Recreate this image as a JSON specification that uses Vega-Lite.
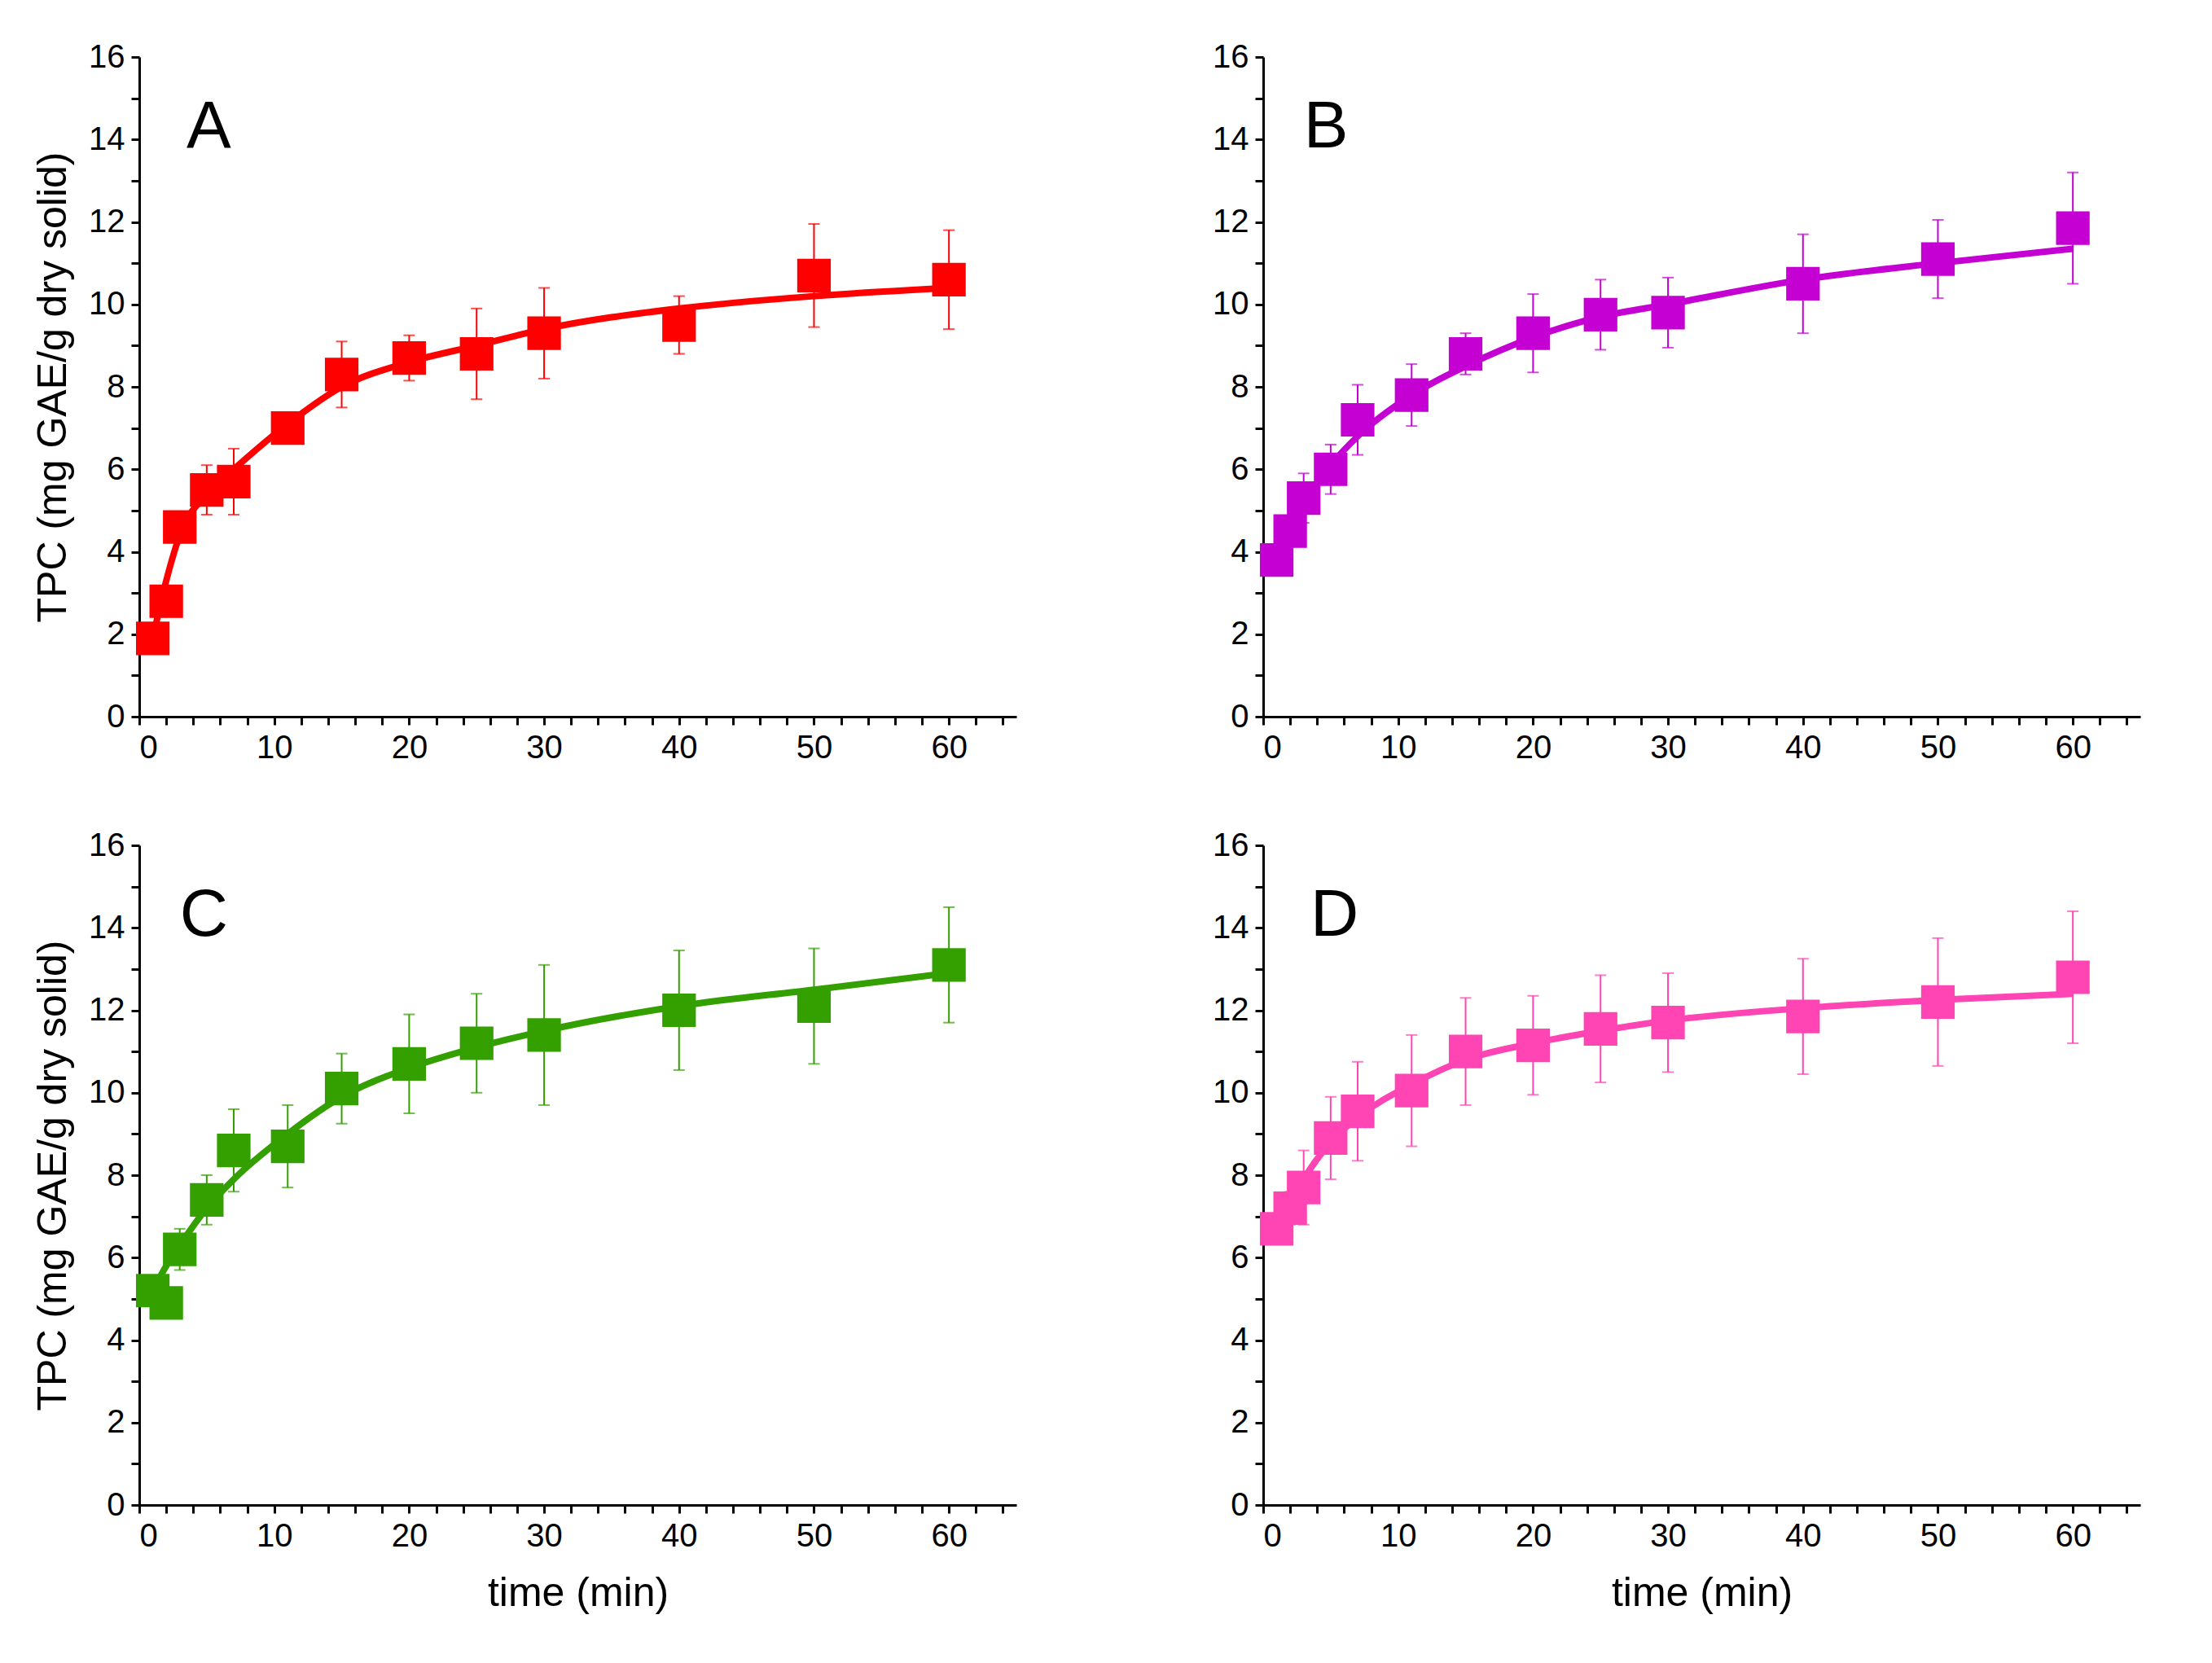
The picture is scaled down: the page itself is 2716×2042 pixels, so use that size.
{
  "$schema": "https://vega.github.io/schema/vega-lite/v6.json",
  "background": "white",
  "padding": {"left": 40, "top": 50, "right": 10, "bottom": 10},
  "spacing": 80,
  "datasets": {
    "tpc": [
      {"panel": "A", "t": 1, "y": 1.9, "err": 0.3, "fit": 1.9},
      {"panel": "A", "t": 2, "y": 2.8, "err": 0.3, "fit": 3.3},
      {"panel": "A", "t": 3, "y": 4.6, "err": 0.3, "fit": 4.4},
      {"panel": "A", "t": 5, "y": 5.5, "err": 0.6, "fit": 5.4},
      {"panel": "A", "t": 7, "y": 5.7, "err": 0.8, "fit": 6.0},
      {"panel": "A", "t": 11, "y": 7.0, "err": 0.3, "fit": 7.1},
      {"panel": "A", "t": 15, "y": 8.3, "err": 0.8, "fit": 8.0},
      {"panel": "A", "t": 20, "y": 8.7, "err": 0.55, "fit": 8.6},
      {"panel": "A", "t": 25, "y": 8.8, "err": 1.1, "fit": 9.0},
      {"panel": "A", "t": 30, "y": 9.3, "err": 1.1, "fit": 9.4},
      {"panel": "A", "t": 40, "y": 9.5, "err": 0.7, "fit": 9.9},
      {"panel": "A", "t": 50, "y": 10.7, "err": 1.25, "fit": 10.2},
      {"panel": "A", "t": 60, "y": 10.6, "err": 1.2, "fit": 10.4},
      {"panel": "B", "t": 1, "y": 3.8, "err": 0.3, "fit": 3.9},
      {"panel": "B", "t": 2, "y": 4.5, "err": 0.3, "fit": 4.6},
      {"panel": "B", "t": 3, "y": 5.3, "err": 0.6, "fit": 5.2},
      {"panel": "B", "t": 5, "y": 6.0, "err": 0.6, "fit": 6.1},
      {"panel": "B", "t": 7, "y": 7.2, "err": 0.85, "fit": 6.8},
      {"panel": "B", "t": 11, "y": 7.8, "err": 0.75, "fit": 7.8},
      {"panel": "B", "t": 15, "y": 8.8, "err": 0.5, "fit": 8.5},
      {"panel": "B", "t": 20, "y": 9.3, "err": 0.95, "fit": 9.2},
      {"panel": "B", "t": 25, "y": 9.75, "err": 0.85, "fit": 9.7},
      {"panel": "B", "t": 30, "y": 9.8, "err": 0.85, "fit": 10.0},
      {"panel": "B", "t": 40, "y": 10.5, "err": 1.2, "fit": 10.6},
      {"panel": "B", "t": 50, "y": 11.1, "err": 0.95, "fit": 11.0},
      {"panel": "B", "t": 60, "y": 11.85, "err": 1.35, "fit": 11.35},
      {"panel": "C", "t": 1, "y": 5.2, "err": 0.3, "fit": 5.2},
      {"panel": "C", "t": 2, "y": 4.9, "err": 0.3, "fit": 5.8},
      {"panel": "C", "t": 3, "y": 6.2, "err": 0.5, "fit": 6.3},
      {"panel": "C", "t": 5, "y": 7.4, "err": 0.6, "fit": 7.2},
      {"panel": "C", "t": 7, "y": 8.6, "err": 1.0, "fit": 7.9},
      {"panel": "C", "t": 11, "y": 8.7, "err": 1.0, "fit": 9.0},
      {"panel": "C", "t": 15, "y": 10.1, "err": 0.85, "fit": 9.9},
      {"panel": "C", "t": 20, "y": 10.7, "err": 1.2, "fit": 10.6},
      {"panel": "C", "t": 25, "y": 11.2, "err": 1.2, "fit": 11.1},
      {"panel": "C", "t": 30, "y": 11.4, "err": 1.7, "fit": 11.5},
      {"panel": "C", "t": 40, "y": 12.0, "err": 1.45, "fit": 12.1},
      {"panel": "C", "t": 50, "y": 12.1, "err": 1.4, "fit": 12.5},
      {"panel": "C", "t": 60, "y": 13.1, "err": 1.4, "fit": 12.9},
      {"panel": "D", "t": 1, "y": 6.7, "err": 0.3, "fit": 6.6},
      {"panel": "D", "t": 2, "y": 7.2, "err": 0.4, "fit": 7.3},
      {"panel": "D", "t": 3, "y": 7.7, "err": 0.9, "fit": 7.9},
      {"panel": "D", "t": 5, "y": 8.9, "err": 1.0, "fit": 8.8},
      {"panel": "D", "t": 7, "y": 9.55, "err": 1.2, "fit": 9.4},
      {"panel": "D", "t": 11, "y": 10.05, "err": 1.35, "fit": 10.2},
      {"panel": "D", "t": 15, "y": 11.0, "err": 1.3, "fit": 10.8},
      {"panel": "D", "t": 20, "y": 11.15, "err": 1.2, "fit": 11.2},
      {"panel": "D", "t": 25, "y": 11.55, "err": 1.3, "fit": 11.5},
      {"panel": "D", "t": 30, "y": 11.7, "err": 1.2, "fit": 11.75},
      {"panel": "D", "t": 40, "y": 11.85, "err": 1.4, "fit": 12.05},
      {"panel": "D", "t": 50, "y": 12.2, "err": 1.55, "fit": 12.25},
      {"panel": "D", "t": 60, "y": 12.8, "err": 1.6, "fit": 12.4}
    ],
    "letters": [
      {"panel": "A", "lx": 3.5, "ly": 14.3},
      {"panel": "B", "lx": 3.0, "ly": 14.3},
      {"panel": "C", "lx": 3.0, "ly": 14.3},
      {"panel": "D", "lx": 3.5, "ly": 14.3}
    ]
  },
  "vconcat": [
    {
      "hconcat": [
        {
          "width": 1077, "height": 810,
          "data": {"name": "tpc"},
          "transform": [{"filter": "datum.panel == 'A'"}],
          "encoding": {
            "x": {"field": "t", "type": "quantitative", "scale": {"domain": [0, 65], "nice": false}, "title": null}
          },
          "layer": [
            {"mark": {"type": "line", "color": "#FF0000", "strokeWidth": 8, "interpolate": "monotone"}, "encoding": {"y": {"field": "fit", "type": "quantitative", "scale": {"domain": [0, 16]}, "title": "TPC (mg GAE/g dry solid)"}}},
            {"mark": {"type": "errorbar", "color": "#FF0000", "ticks": {"size": 14, "thickness": 2}, "thickness": 2}, "encoding": {"y": {"field": "y", "type": "quantitative", "title": "TPC (mg GAE/g dry solid)"}, "yError": {"field": "err"}}},
            {"mark": {"type": "square", "color": "#FF0000", "opacity": 1, "size": 1700}, "encoding": {"y": {"field": "y", "type": "quantitative", "title": "TPC (mg GAE/g dry solid)"}}},
            {"data": {"name": "letters"}, "transform": [{"filter": "datum.panel == 'A'"}], "mark": {"type": "text", "fontSize": 82, "align": "left", "baseline": "middle"}, "encoding": {"x": {"field": "lx", "type": "quantitative"}, "y": {"field": "ly", "type": "quantitative", "title": "TPC (mg GAE/g dry solid)"}, "text": {"field": "panel"}}}
          ]
        },
        {
          "width": 1077, "height": 810,
          "data": {"name": "tpc"},
          "transform": [{"filter": "datum.panel == 'B'"}],
          "encoding": {
            "x": {"field": "t", "type": "quantitative", "scale": {"domain": [0, 65], "nice": false}, "title": null}
          },
          "layer": [
            {"mark": {"type": "line", "color": "#C400D2", "strokeWidth": 8, "interpolate": "monotone"}, "encoding": {"y": {"field": "fit", "type": "quantitative", "scale": {"domain": [0, 16]}, "title": null}}},
            {"mark": {"type": "errorbar", "color": "#C400D2", "ticks": {"size": 14, "thickness": 2}, "thickness": 2}, "encoding": {"y": {"field": "y", "type": "quantitative", "title": null}, "yError": {"field": "err"}}},
            {"mark": {"type": "square", "color": "#C400D2", "opacity": 1, "size": 1700}, "encoding": {"y": {"field": "y", "type": "quantitative", "title": null}}},
            {"data": {"name": "letters"}, "transform": [{"filter": "datum.panel == 'B'"}], "mark": {"type": "text", "fontSize": 82, "align": "left", "baseline": "middle"}, "encoding": {"x": {"field": "lx", "type": "quantitative"}, "y": {"field": "ly", "type": "quantitative", "title": null}, "text": {"field": "panel"}}}
          ]
        }
      ],
      "spacing": 240
    },
    {
      "hconcat": [
        {
          "width": 1077, "height": 810,
          "data": {"name": "tpc"},
          "transform": [{"filter": "datum.panel == 'C'"}],
          "encoding": {
            "x": {"field": "t", "type": "quantitative", "scale": {"domain": [0, 65], "nice": false}, "title": "time (min)"}
          },
          "layer": [
            {"mark": {"type": "line", "color": "#33A000", "strokeWidth": 8, "interpolate": "monotone"}, "encoding": {"y": {"field": "fit", "type": "quantitative", "scale": {"domain": [0, 16]}, "title": "TPC (mg GAE/g dry solid)"}}},
            {"mark": {"type": "errorbar", "color": "#33A000", "ticks": {"size": 14, "thickness": 2}, "thickness": 2}, "encoding": {"y": {"field": "y", "type": "quantitative", "title": "TPC (mg GAE/g dry solid)"}, "yError": {"field": "err"}}},
            {"mark": {"type": "square", "color": "#33A000", "opacity": 1, "size": 1700}, "encoding": {"y": {"field": "y", "type": "quantitative", "title": "TPC (mg GAE/g dry solid)"}}},
            {"data": {"name": "letters"}, "transform": [{"filter": "datum.panel == 'C'"}], "mark": {"type": "text", "fontSize": 82, "align": "left", "baseline": "middle"}, "encoding": {"x": {"field": "lx", "type": "quantitative"}, "y": {"field": "ly", "type": "quantitative", "title": "TPC (mg GAE/g dry solid)"}, "text": {"field": "panel"}}}
          ]
        },
        {
          "width": 1077, "height": 810,
          "data": {"name": "tpc"},
          "transform": [{"filter": "datum.panel == 'D'"}],
          "encoding": {
            "x": {"field": "t", "type": "quantitative", "scale": {"domain": [0, 65], "nice": false}, "title": "time (min)"}
          },
          "layer": [
            {"mark": {"type": "line", "color": "#FF44B4", "strokeWidth": 8, "interpolate": "monotone"}, "encoding": {"y": {"field": "fit", "type": "quantitative", "scale": {"domain": [0, 16]}, "title": null}}},
            {"mark": {"type": "errorbar", "color": "#FF44B4", "ticks": {"size": 14, "thickness": 2}, "thickness": 2}, "encoding": {"y": {"field": "y", "type": "quantitative", "title": null}, "yError": {"field": "err"}}},
            {"mark": {"type": "square", "color": "#FF44B4", "opacity": 1, "size": 1700}, "encoding": {"y": {"field": "y", "type": "quantitative", "title": null}}},
            {"data": {"name": "letters"}, "transform": [{"filter": "datum.panel == 'D'"}], "mark": {"type": "text", "fontSize": 82, "align": "left", "baseline": "middle"}, "encoding": {"x": {"field": "lx", "type": "quantitative"}, "y": {"field": "ly", "type": "quantitative", "title": null}, "text": {"field": "panel"}}}
          ]
        }
      ],
      "spacing": 240
    }
  ],
  "config": {
    "font": "Liberation Sans",
    "view": {"stroke": null},
    "axis": {
      "grid": false,
      "domainColor": "black",
      "domainWidth": 3,
      "tickColor": "black",
      "tickWidth": 3,
      "tickSize": 10,
      "labelColor": "black",
      "labelFontSize": 40,
      "labelFont": "Liberation Sans",
      "titleFont": "Liberation Sans",
      "titleFontSize": 50,
      "titleFontWeight": "normal",
      "titleColor": "black",
      "labelPadding": 8
    },
    "axisX": {
      "values": [0, 5, 10, 15, 20, 25, 30, 35, 40, 45, 50, 55, 60, 65],
      "labelExpr": "datum.value % 10 == 0 ? datum.label : ''",
      "titlePadding": 25
    },
    "axisY": {
      "values": [0, 1, 2, 3, 4, 5, 6, 7, 8, 9, 10, 11, 12, 13, 14, 15, 16],
      "labelExpr": "datum.value % 2 == 0 ? datum.label : ''",
      "titlePadding": 18
    }
  }
}
